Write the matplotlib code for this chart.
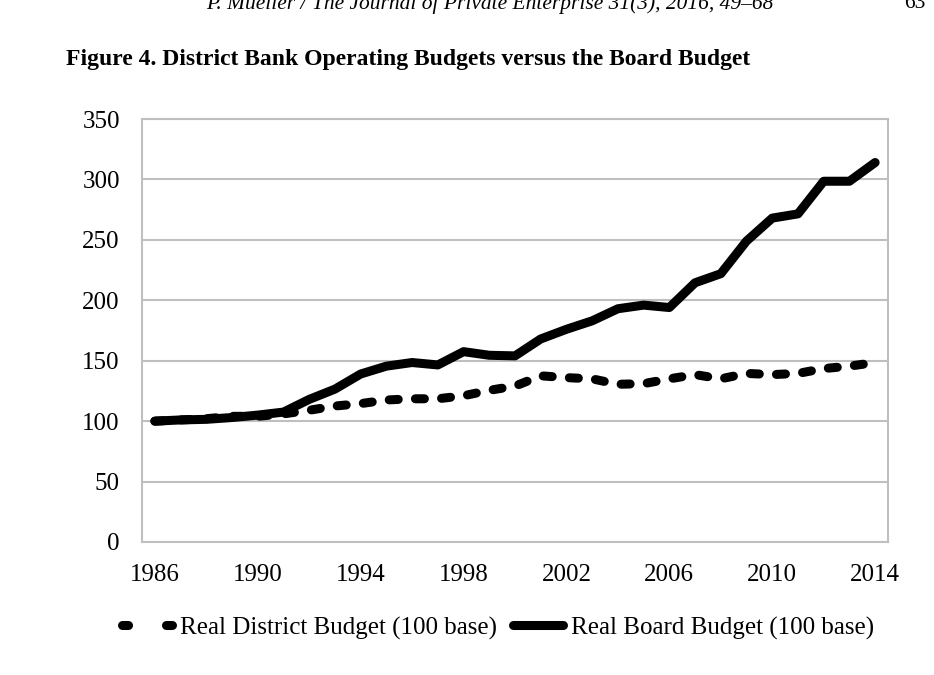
import matplotlib
matplotlib.use("Agg")
import matplotlib.pyplot as plt
from matplotlib.lines import Line2D

years = list(range(1986, 2015))
district = [100, 101, 102, 104, 104, 106, 109, 112.5, 114.5, 117.5, 118.5, 118.5, 121, 125.5,
            129, 137.5, 136, 135, 130.5, 131, 135, 138.5, 135, 139.5, 138.5, 139.5, 143.5, 145.5, 148.5]
board = [100, 101, 101.5, 103, 105, 107.5, 118, 126.5, 139, 145.5, 148.5, 146.5, 157.5, 154.5,
         154, 168, 176, 183, 193, 196, 194, 214.5, 222, 249, 268, 271.5, 298.5, 298.5, 314]
tick_years = [1986, 1990, 1994, 1998, 2002, 2006, 2010, 2014]
yticks = [0, 50, 100, 150, 200, 250, 300, 350]

W, H = 934, 675
plt.rcParams['font.family'] = ['Liberation Serif', 'DejaVu Serif']
fig = plt.figure(figsize=(W / 100, H / 100), dpi=100)
ax = fig.add_axes([142 / W, 1 - 542 / H, (888 - 142) / W, (542 - 119) / H])

x = list(range(len(years)))
lw = 6.5
ax.plot(x, district, color='black', lw=lw, linestyle=(0, (1.0, 1.9)),
        dash_capstyle='round', solid_joinstyle='round', label='Real District Budget (100 base)', zorder=3)
ax.plot(x, board, color='black', lw=lw, solid_capstyle='round', solid_joinstyle='round',
        label='Real Board Budget (100 base)', zorder=4)

ax.set_xlim(-0.5, len(years) - 0.5)
ax.set_ylim(0, 350)
ax.set_yticks(yticks)
ax.set_yticklabels([str(v) for v in yticks])
ax.set_xticks([years.index(t) for t in tick_years])
ax.set_xticklabels([str(t) for t in tick_years])
ax.tick_params(axis='both', length=0, labelsize=18, colors='black')
ax.tick_params(axis='y', pad=16)
ax.tick_params(axis='x', pad=16)
ax.grid(axis='y', color='#bfbfbf', lw=1.5)
ax.set_axisbelow(True)
for s in ax.spines.values():
    s.set_color('#bfbfbf')
    s.set_linewidth(1.5)

# legend
h1 = Line2D([0], [0], color='black', lw=lw, linestyle=(0, (0.67, 4.2)), dash_capstyle='round')
h2 = Line2D([0], [0], color='black', lw=lw, solid_capstyle='round')
fig.legend([h1, h2], ['Real District Budget (100 base)', 'Real Board Budget (100 base)'],
           loc='center', bbox_to_anchor=(498 / W, 1 - 628 / H), ncol=2, frameon=False,
           fontsize=18, handlelength=2.0, handletextpad=0.3, columnspacing=0.65)

fig.text(66 / W, 1 - 60 / H, 'Figure 4. District Bank Operating Budgets versus the Board Budget',
         fontsize=17, fontweight='bold', ha='left', va='center')
fig.text(490 / W, 1 - 4 / H, 'P. Mueller / The Journal of Private Enterprise 31(3), 2016, 49\u201368',
         fontsize=15.5, style='italic', ha='center', va='center')
fig.text(915 / W, 1 - 4 / H, '63', fontsize=15.5, ha='center', va='center')

fig.savefig('out.png', dpi=100)
